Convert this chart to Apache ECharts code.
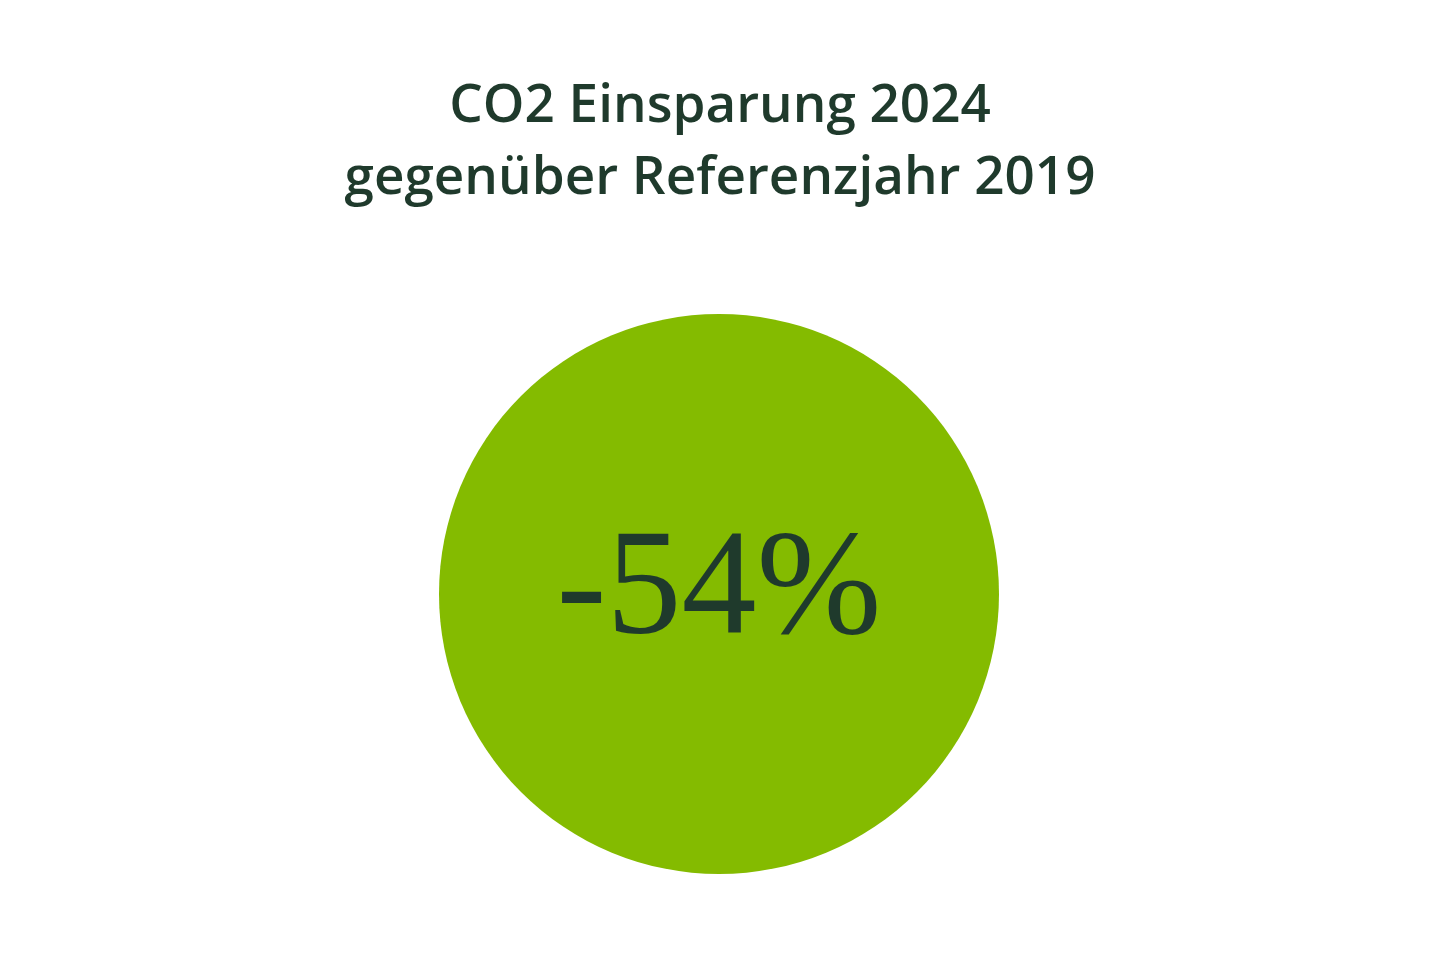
<!DOCTYPE html>
<html>
<head>
<meta charset="utf-8">
<script src="https://cdn.jsdelivr.net/npm/echarts@6/dist/echarts.min.js"></script>
<style>
html, body { margin: 0; padding: 0; background: #fff; }
#main { width: 1440px; height: 960px; }
</style>
</head>
<body>
<div id="main"></div>
<script>
var titleLines = ['CO2 Einsparung 2024', 'gegenüber Referenzjahr 2019'];
var sliceNames = ['Einsparung'];
var sliceValues = [54];
var centerLabel = '-54%';

var myChart = echarts.init(document.getElementById('main'));
var seriesData = [];
for (var i = 0; i < sliceNames.length; i++) {
	seriesData.push({ name: sliceNames[i], value: sliceValues[i] });
}
var option = {
	backgroundColor: '#ffffff',
	title: {
		text: titleLines.join('\n'),
		left: 'center',
		top: 66,
		textStyle: {
			fontFamily: 'Open Sans',
			fontSize: 53,
			fontWeight: 600,
			color: '#1f3a2c',
			lineHeight: 72
		}
	},
	series: [{
		type: 'pie',
		radius: [0, 280],
		center: [719, 594],
		silent: true,
		data: seriesData,
		itemStyle: { color: '#84bb00' },
		label: {
			show: true,
			position: 'center',
			formatter: function () { return centerLabel; },
			fontFamily: 'Liberation Serif',
			fontSize: 150,
			color: '#1f3a2c'
		},
		labelLine: { show: false }
	}]
};
myChart.setOption(option);
</script>
</body>
</html>
